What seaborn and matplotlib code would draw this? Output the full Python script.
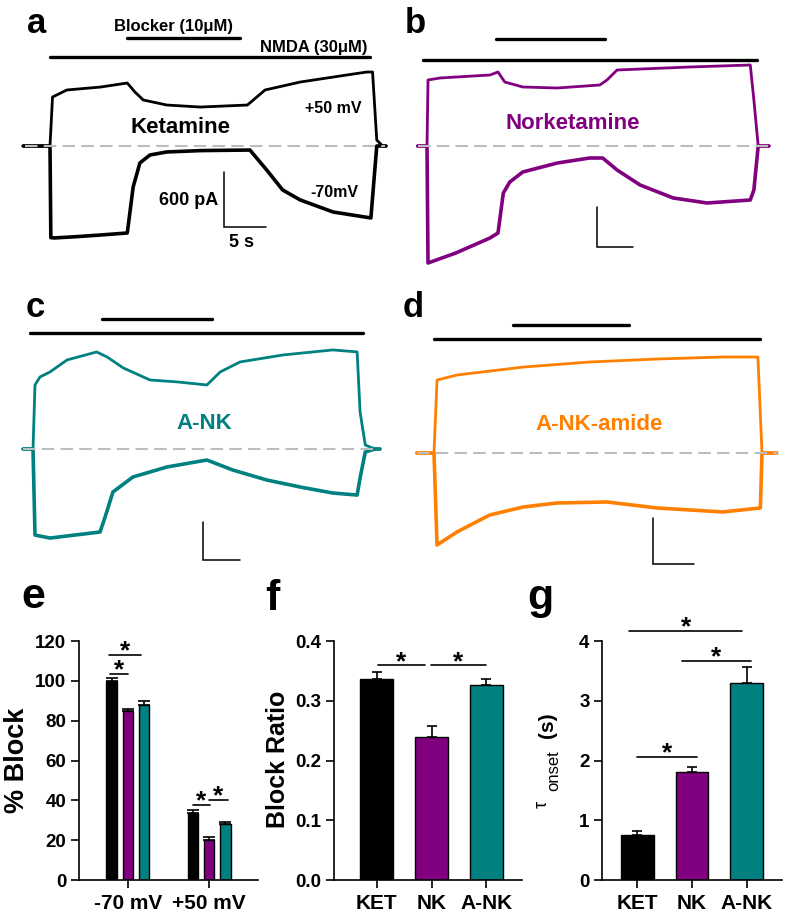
import numpy as np
import pandas as pd
import matplotlib
matplotlib.use("Agg")
import matplotlib.pyplot as plt
import seaborn as sns

# ---- whole-cell traces: time (s) from NMDA onset, current (pA) ----
# a: ketamine
ket_t_pos = [-3.2, 0, 0.3, 2.0, 6.0, 9.2, 10.1, 11.1, 13.9, 17.9, 23.5, 25.6, 29.8, 33.7, 37.7, 38.4, 38.9, 39.6, 40.0]
ket_i_pos = [0, 0, 534, 611, 643, 687, 590, 502, 447, 425, 447, 611, 698, 752, 807, 807, 65, 0, 0]
ket_t_neg = [-3.2, 0, 0.1, 0.5, 3.0, 6.0, 9.2, 9.9, 10.7, 11.9, 13.9, 18.0, 23.8, 25.8, 27.7, 29.8, 33.7, 38.2, 38.9, 40.0]
ket_i_neg = [0, 0, -1000, -1003, -990, -971, -949, -447, -185, -98, -65, -50, -44, -262, -480, -589, -720, -785, 0, 0]
nmda_a = [0, 38.1]
blocker_a = [9.2, 22.6]

# b: norketamine
nk_t_pos = [-1.3, 0, 0.14, 1.8, 8.75, 9.86, 10.8, 13.3, 18.1, 24.0, 25.0, 26.4, 36.5, 44.9, 45.4, 46.0, 47.5]
nk_i_pos = [0, 0, 990, 1020, 1065, 1110, 960, 885, 870, 915, 990, 1140, 1185, 1215, 690, 0, 0]
nk_t_neg = [-1.3, 0, 0.14, 4.0, 8.75, 9.86, 10.6, 11.5, 13.3, 18.1, 22.6, 24.4, 26.4, 29.6, 34.2, 38.9, 44.9, 45.4, 46.0, 47.5]
nk_i_neg = [0, 0, -1755, -1605, -1380, -1305, -705, -540, -390, -255, -180, -180, -360, -585, -780, -855, -810, -660, 0, 0]
nmda_b = [-0.55, 45.8]
blocker_b = [9.6, 24.7]

# c: A-NK
ank_t_pos = [-1.35, 0, 0.27, 0.95, 2.3, 4.6, 8.6, 10.0, 12.2, 15.8, 19.5, 23.5, 25.3, 28.0, 33.8, 40.5, 43.8, 44.2, 44.9, 46.2, 46.9]
ank_i_pos = [0, 0, 1011, 1138, 1217, 1406, 1532, 1454, 1280, 1090, 1059, 1011, 1217, 1375, 1485, 1564, 1533, 585, 63, 0, 0]
ank_t_neg = [-1.35, 0, 0.27, 2.3, 9.05, 9.7, 10.8, 13.5, 18.1, 23.5, 27.0, 31.6, 36.1, 40.5, 43.8, 44.2, 44.9, 46.2, 46.9]
ank_i_neg = [0, 0, -1359, -1406, -1311, -1090, -679, -442, -284, -174, -332, -490, -600, -695, -727, -458, -47, 0, 0]
nmda_c = [-0.4, 44.6]
blocker_c = [9.3, 24.2]

# d: A-NK-amide
amide_t_pos = [-2.1, 0, 0.37, 2.8, 10.9, 19.0, 27.2, 35.2, 39.5, 40.0, 41.8]
amide_i_pos = [0, 0, 952, 1017, 1121, 1187, 1226, 1252, 1252, 0, 0]
amide_t_neg = [-2.1, 0, 0.37, 2.8, 6.8, 10.9, 15.0, 21.1, 27.2, 35.2, 39.8, 40.0, 41.8]
amide_i_neg = [0, 0, -1200, -1030, -808, -704, -652, -639, -717, -769, -717, 0, 0]
nmda_d = [0, 39.8]
blocker_d = [9.6, 23.8]

scale_pa = 600
scale_s = 5

# ---- summary bars ----
volts = ['-70 mV', '+50 mV']
drugs = ['KET', 'NK', 'A-NK']
block_ket = [100.0, 33.7]
block_nk = [85.0, 20.3]
block_ank = [87.7, 28.3]
block_ket_se = [1.5, 1.3]
block_nk_se = [0.7, 1.4]
block_ank_se = [2.1, 1.0]
ratio_mean = [0.336, 0.240, 0.326]
ratio_se = [0.012, 0.017, 0.011]
tau_mean = [0.75, 1.80, 3.30]
tau_se = [0.07, 0.09, 0.27]

purple = '#800080'
teal = '#008080'
orange = '#ff8000'
bar_colors = ['black', purple, teal]

sns.set_theme(style='ticks')
plt.rcParams['font.family'] = ['Liberation Sans', 'DejaVu Sans']
plt.rcParams['font.weight'] = 'bold'
plt.rcParams['axes.labelweight'] = 'bold'
for k in ['text.color', 'axes.labelcolor', 'xtick.color', 'ytick.color', 'axes.edgecolor']:
    plt.rcParams[k] = 'black'

W, H = 787, 922
fig = plt.figure(figsize=(W / 100, H / 100), dpi=100)


def ftext(x, y, s, **kw):
    kw.setdefault('va', 'baseline')
    return fig.text(x / W, 1 - y / H, s, **kw)


def pix_axes(l, t, r, b):
    return fig.add_axes([l / W, 1 - b / H, (r - l) / W, (b - t) / H])


# ---- trace panels a-d ----
geo = {
    'a': dict(box=(15, 10, 392, 275), x0=50, yb=146, pxs=8.4, pxp=55 / 600, nmda_y=57, blk_y=38, base=(25, 385), bar=(224, 227)),
    'b': dict(box=(400, 10, 785, 275), x0=427, yb=146, pxs=7.2, pxp=40 / 600, nmda_y=60, blk_y=39, base=(418, 770), bar=(597, 247)),
    'c': dict(box=(15, 290, 392, 575), x0=33, yb=449, pxs=7.4, pxp=38 / 600, nmda_y=333, blk_y=319, base=(23, 377), bar=(203, 560)),
    'd': dict(box=(400, 290, 785, 575), x0=434, yb=453, pxs=8.2, pxp=46 / 600, nmda_y=339, blk_y=325, base=(417, 777), bar=(653, 564)),
}
panels = [
    ('a', 'black', ket_t_pos, ket_i_pos, ket_t_neg, ket_i_neg, nmda_a, blocker_a),
    ('b', purple, nk_t_pos, nk_i_pos, nk_t_neg, nk_i_neg, nmda_b, blocker_b),
    ('c', teal, ank_t_pos, ank_i_pos, ank_t_neg, ank_i_neg, nmda_c, blocker_c),
    ('d', orange, amide_t_pos, amide_i_pos, amide_t_neg, amide_i_neg, nmda_d, blocker_d),
]

for key, color, tp, ip, tn, i_n, nmda, blk in panels:
    g = geo[key]
    l, t, r, b = g['box']
    ax = pix_axes(l, t, r, b)
    tx = lambda x: (x - g['x0']) / g['pxs']
    iy = lambda y: (g['yb'] - y) / g['pxp']
    ax.set_xlim(tx(l), tx(r))
    ax.set_ylim(iy(b), iy(t))
    ax.axis('off')
    sns.lineplot(x=tn, y=i_n, ax=ax, color=color, lw=2.6, sort=False, estimator=None,
                 solid_joinstyle='round')
    sns.lineplot(x=tp, y=ip, ax=ax, color=color, lw=2.0, sort=False, estimator=None,
                 solid_joinstyle='round')
    ax.plot([tx(g['base'][0]), tx(g['base'][1])], [0, 0], color='#bdbdbd', lw=1.5,
            dashes=(6, 3), zorder=5)
    ax.plot(nmda, [iy(g['nmda_y'])] * 2, color='black', lw=2.4, solid_capstyle='round')
    ax.plot(blk, [iy(g['blk_y'])] * 2, color='black', lw=2.4, solid_capstyle='round')
    cx, cy = tx(g['bar'][0]), iy(g['bar'][1])
    ax.plot([cx, cx, cx + scale_s], [cy + scale_pa, cy, cy], color='black', lw=1.1,
            solid_joinstyle='miter')

ftext(27, 33, 'a', fontsize=25)
ftext(405, 33, 'b', fontsize=25)
ftext(26, 317, 'c', fontsize=25)
ftext(403, 317, 'd', fontsize=25)

ftext(173, 31, 'Blocker (10μM)', fontsize=12, ha='center')
ftext(367, 52, 'NMDA (30μM)', fontsize=12, ha='right')
ftext(305, 113, '+50 mV', fontsize=11.5, ha='left')
ftext(310, 197, '-70mV', fontsize=11.5, ha='left')
ftext(180, 133, 'Ketamine', fontsize=16, ha='center')
ftext(218, 205, '600 pA', fontsize=13, ha='right')
ftext(242, 247, '5 s', fontsize=13, ha='center')
ftext(573, 129, 'Norketamine', fontsize=16, ha='center', color=purple)
ftext(204, 429, 'A-NK', fontsize=16, ha='center', color=teal)
ftext(599, 430, 'A-NK-amide', fontsize=16, ha='center', color=orange)


# ---- bar panels e-g ----
def style_axes(ax):
    sns.despine(ax=ax)
    for s in ['left', 'bottom']:
        ax.spines[s].set_linewidth(1.2)
        ax.spines[s].set_color('black')
    ax.tick_params(axis='both', direction='out', length=6, width=1.2, color='black')
    ax.tick_params(axis='y', labelsize=13.5, pad=3)
    ax.tick_params(axis='x', labelsize=15, pad=4)
    ax.set_xlabel('')
    ax.set_facecolor('none')


def stars(ax, sig):
    for x1, x2, y in sig:
        ax.plot([x1, x2], [y, y], color='black', lw=1.2, clip_on=False)
        ax.annotate('*', xy=((x1 + x2) / 2, y), xytext=(0, -2.5), textcoords='offset points',
                    ha='center', va='baseline', fontsize=19, fontweight='bold',
                    annotation_clip=False)


# e
ax_e = pix_axes(79, 641, 258, 880)
df_e = pd.DataFrame({'volt': volts * 3, 'drug': np.repeat(drugs, 2),
                     'block': block_ket + block_nk + block_ank})
sns.barplot(data=df_e, x='volt', y='block', hue='drug', hue_order=drugs, palette=bar_colors,
            width=0.6, gap=0.36, saturation=1, edgecolor='black', linewidth=1.0, errorbar=None,
            legend=False, ax=ax_e)
for j, (m, se) in enumerate([(block_ket, block_ket_se), (block_nk, block_nk_se), (block_ank, block_ank_se)]):
    xs = np.arange(2) + (j - 1) * 0.2
    ax_e.errorbar(xs, m, yerr=[np.zeros(2), se], fmt='none', ecolor='black', elinewidth=1.2,
                  capsize=4.5, capthick=1.2)
ax_e.set_xlim(-0.6, 1.6)
ax_e.set_ylim(0, 120)
ax_e.set_yticks(range(0, 121, 20))
style_axes(ax_e)
ax_e.set_ylabel('% Block', fontsize=19.5, va='baseline')
ax_e.yaxis.set_label_coords(-0.307, 0.502)
stars(ax_e, [(-0.22, 0.0, 103.5), (-0.226, 0.164, 112.8), (0.80, 1.01, 37.8), (1.0, 1.23, 40.3)])

# f
ax_f = pix_axes(334, 641, 522, 880)
df_f = pd.DataFrame({'drug': drugs, 'ratio': ratio_mean})
sns.barplot(data=df_f, x='drug', y='ratio', hue='drug', palette=bar_colors, width=0.6,
            saturation=1, edgecolor='black', linewidth=1.0, errorbar=None, legend=False, ax=ax_f)
ax_f.errorbar(np.arange(3), ratio_mean, yerr=[np.zeros(3), ratio_se], fmt='none', ecolor='black',
              elinewidth=1.2, capsize=3.5, capthick=1.2)
ax_f.set_xlim(-0.78, 2.65)
ax_f.set_ylim(0, 0.4)
ax_f.set_yticks([0, 0.1, 0.2, 0.3, 0.4])
ax_f.set_yticklabels(['0.0', '0.1', '0.2', '0.3', '0.4'])
style_axes(ax_f)
ax_f.set_ylabel('Block Ratio', fontsize=18, va='baseline')
ax_f.yaxis.set_label_coords(-0.261, 0.506)
stars(ax_f, [(0.02, 0.88, 0.359), (0.99, 1.99, 0.359)])

# g
ax_g = pix_axes(602, 641, 782, 880)
df_g = pd.DataFrame({'drug': drugs, 'tau': tau_mean})
sns.barplot(data=df_g, x='drug', y='tau', hue='drug', palette=bar_colors, width=0.6,
            saturation=1, edgecolor='black', linewidth=1.0, errorbar=None, legend=False, ax=ax_g)
ax_g.errorbar(np.arange(3), tau_mean, yerr=[np.zeros(3), tau_se], fmt='none', ecolor='black',
              elinewidth=1.2, capsize=3.5, capthick=1.2)
ax_g.set_xlim(-0.64, 2.64)
ax_g.set_ylim(0, 4)
ax_g.set_yticks(range(0, 5))
style_axes(ax_g)
ax_g.set_ylabel('')
stars(ax_g, [(0.0, 1.09, 2.06), (0.82, 2.07, 3.67), (-0.14, 1.91, 4.17)])
# tau_onset (s) label built from three rotated pieces
ftext(547, 804.5, 'τ', fontsize=13, fontweight='normal', rotation=90, rotation_mode='anchor', ha='center')
ftext(558, 771, 'onset', fontsize=12, fontweight='normal', rotation=90, rotation_mode='anchor', ha='center')
ftext(553, 725.5, '(s)', fontsize=15, rotation=90, rotation_mode='anchor', ha='center')

ftext(21, 608, 'e', fontsize=31)
ftext(265, 610, 'f', fontsize=31)
ftext(527, 609, 'g', fontsize=31)

fig.savefig('out.png', dpi=100)
